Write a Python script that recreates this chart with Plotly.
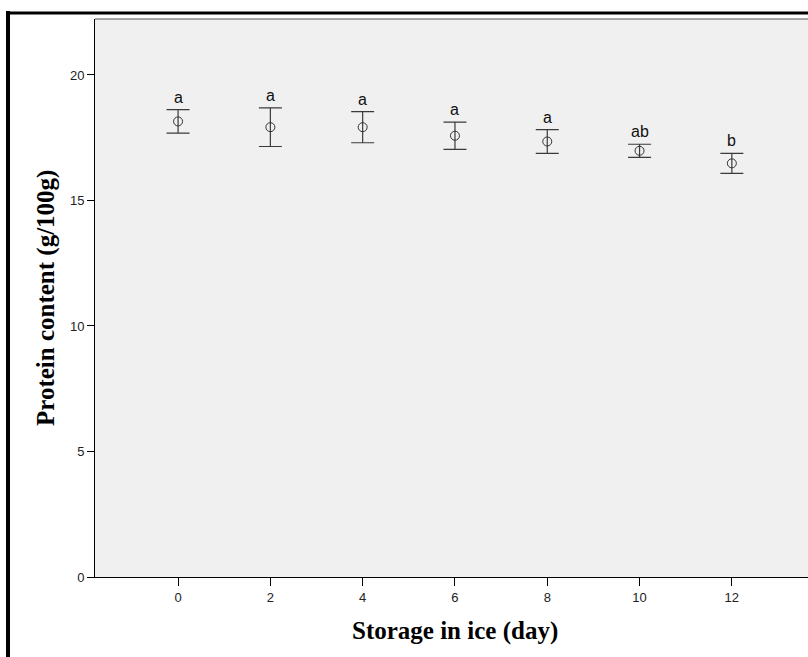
import plotly.graph_objects as go

# Protein content during storage in ice
days = [0, 2, 4, 6, 8, 10, 12]
protein_mean = [18.15, 17.92, 17.92, 17.58, 17.35, 16.98, 16.48]
protein_err = [0.47, 0.77, 0.62, 0.54, 0.47, 0.26, 0.40]
group_letters = ["a", "a", "a", "a", "a", "ab", "b"]
y_ticks = [0, 5, 10, 15, 20]
x_ticks = [0, 2, 4, 6, 8, 10, 12]

W, H = 808, 657
L, R, T, B = 95, 0, 19, 80
pw, ph = W - L - R, H - T - B


def px_x(p):
    return (p - L) / pw


def px_y(p):
    return (H - B - p) / ph


fig = go.Figure()
fig.add_trace(go.Scatter(
    x=days, y=protein_mean, mode="markers",
    marker=dict(symbol="circle-open", size=9, color="#333333",
                line=dict(width=1, color="#333333")),
    error_y=dict(type="data", array=protein_err, visible=True,
                 color="#3a3a3a", thickness=1.2, width=11.5),
    showlegend=False, hoverinfo="x+y",
))

annotations = []
for d, m, e, lab in zip(days, protein_mean, protein_err, group_letters):
    annotations.append(dict(
        x=d, y=m + e, xref="x", yref="y", text=lab, showarrow=False,
        yanchor="bottom", xanchor="center", yshift=2,
        font=dict(family="Arial, Liberation Sans, sans-serif", size=16, color="#111111"),
    ))

title_font = dict(family="Times New Roman, Liberation Serif, serif", size=25, color="#000000")
annotations.append(dict(
    x=px_x(455), y=px_y(631), xref="paper", yref="paper", showarrow=False,
    text="<b>Storage in ice (day)</b>", xanchor="center", yanchor="middle",
    font=title_font,
))
annotations.append(dict(
    x=px_x(46), y=px_y(298), xref="paper", yref="paper", showarrow=False,
    text="<b>Protein content (g/100g)</b>", xanchor="center", yanchor="middle",
    textangle=-90, font=title_font,
))

shapes = [
    # top edge of the plotting frame
    dict(type="line", xref="paper", yref="paper", x0=0, x1=1, y0=1, y1=1,
         line=dict(color="#555555", width=1)),
    # outer figure border (left and top)
    dict(type="line", xref="paper", yref="paper",
         x0=px_x(8), x1=px_x(8), y0=px_y(H + 10), y1=px_y(11),
         line=dict(color="#000000", width=4)),
    dict(type="line", xref="paper", yref="paper",
         x0=px_x(6), x1=px_x(W + 10), y0=px_y(13), y1=px_y(13),
         line=dict(color="#000000", width=3)),
]

tick_font = dict(family="Arial, Liberation Sans, sans-serif", size=13, color="#222222")

fig.update_layout(
    width=W, height=H,
    margin=dict(l=L, r=R, t=T, b=B, pad=0),
    paper_bgcolor="#ffffff", plot_bgcolor="#f0f0f0",
    annotations=annotations, shapes=shapes,
    xaxis=dict(range=[-1.8, 13.65], tickvals=x_ticks, ticks="outside", ticklen=8,
               tickcolor="#000000", tickwidth=1, showline=True, linecolor="#000000",
               linewidth=1, showgrid=False, zeroline=False, tickfont=tick_font),
    yaxis=dict(range=[0, 22.23], tickvals=y_ticks, ticks="outside", ticklen=7,
               tickcolor="#000000", tickwidth=1, showline=True, linecolor="#000000",
               linewidth=1, showgrid=False, zeroline=False, tickfont=tick_font),
)

fig.write_html("out.html")
